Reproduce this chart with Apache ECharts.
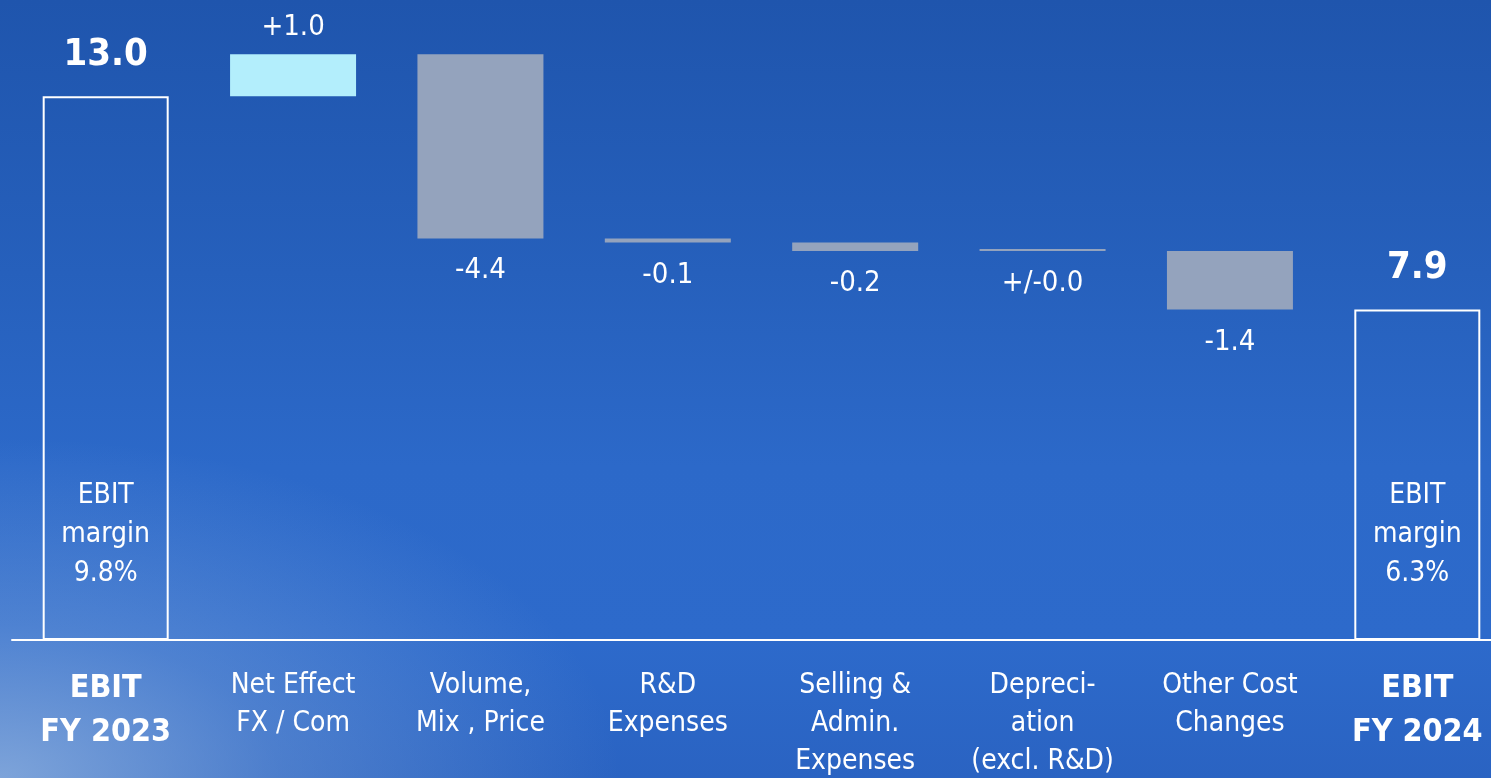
<!DOCTYPE html>
<html>
<head>
<meta charset="utf-8">
<script src="https://cdn.jsdelivr.net/npm/echarts@6/dist/echarts.min.js"></script>
<style>
html,body{margin:0;padding:0;width:1491px;height:778px;overflow:hidden;}
body{
  background:
    radial-gradient(ellipse 620px 340px at 0% 100%, rgba(140,175,222,0.85), rgba(140,175,222,0.35) 45%, rgba(140,175,222,0) 100%),
    linear-gradient(to bottom, #1f55ad 0%, #2660bc 35%, #2c69c9 60%, #2d6acb 82%, #2a63c2 100%);
}
#chart{width:1491px;height:778px;}
</style>
</head>
<body>
<div id="chart"></div>
<script>
const categories = ["EBIT\nFY 2023", "Net Effect\nFX / Com", "Volume,\nMix , Price", "R&D\nExpenses", "Selling &\nAdmin.\nExpenses", "Depreci-\nation\n(excl. R&D)", "Other Cost\nChanges", "EBIT\nFY 2024"];
const isTotal = [true, false, false, false, false, false, false, true];
const values = [13.0, 1.0, -4.4, -0.1, -0.2, 0.0, -1.4, 7.9];
const valueLabels = ["13.0", "+1.0", "-4.4", "-0.1", "-0.2", "+/-0.0", "-1.4", "7.9"];
const marginLabels = ["EBIT\nmargin\n9.8%", "", "", "", "", "", "", "EBIT\nmargin\n6.3%"];

// build waterfall pieces from the values
const base = [], up = [], down = [], totals = [], overlay = [];
let running = 0;
for (let i = 0; i < values.length; i++) {
  const v = values[i];
  if (isTotal[i]) {
    running = v;
    base.push('-'); up.push('-'); down.push('-');
    totals.push(v); overlay.push(v);
  } else if (v > 0) {
    base.push(running); up.push(v); down.push('-');
    totals.push('-'); overlay.push('-');
    running += v;
  } else {
    running += v;
    base.push(running); up.push('-'); down.push(-v);
    totals.push('-'); overlay.push('-');
  }
}

const FONT = "'DejaVu Sans Condensed', 'DejaVu Sans', sans-serif";
const chart = echarts.init(document.getElementById('chart'), null, {renderer: 'canvas'});
const BW = 126;
chart.setOption({
  backgroundColor: 'transparent',
  animation: false,
  grid: {left: 12, width: 1499, top: 12.5, bottom: 138, containLabel: false, outerBoundsMode: 'none'},
  xAxis: {
    type: 'category',
    data: categories,
    axisLine: {show: true, lineStyle: {color: '#ffffff', width: 2}},
    axisTick: {show: false},
    axisLabel: {
      interval: 0,
      margin: 27,
      color: '#ffffff',
      fontFamily: FONT,
      fontSize: 28,
      lineHeight: 38,
      formatter: function (val, idx) {
        return isTotal[idx] ? '{b|' + val.split('\n').join('}\n{b|') + '}' : val;
      },
      rich: {b: {fontFamily: FONT, fontWeight: 'bold', fontSize: 32, lineHeight: 44, color: '#ffffff'}}
    }
  },
  yAxis: {type: 'value', min: 0, max: 15, show: false, splitLine: {show: false}},
  series: [
    {
      name: 'base', type: 'bar', stack: 'w', barWidth: BW, data: base,
      itemStyle: {color: 'transparent'}, silent: true
    },
    {
      name: 'up', type: 'bar', stack: 'w', barWidth: BW, data: up,
      itemStyle: {color: '#b3eefc'},
      label: {
        show: true, position: 'top', distance: 12, color: '#ffffff',
        fontFamily: FONT, fontSize: 29,
        formatter: p => valueLabels[p.dataIndex]
      }
    },
    {
      name: 'down', type: 'bar', stack: 'w', barWidth: BW, data: down, barMinHeight: 2,
      itemStyle: {color: '#94a3bd'},
      label: {
        show: true, position: 'bottom', distance: 18, color: '#ffffff',
        fontFamily: FONT, fontSize: 29,
        formatter: p => valueLabels[p.dataIndex]
      }
    },
    {
      name: 'total', type: 'bar', stack: 'w', barWidth: BW, data: totals,
      itemStyle: {color: 'rgba(0,0,0,0)', borderColor: '#ffffff', borderWidth: 2},
      label: {
        show: true, position: 'top', distance: 22, color: '#ffffff',
        fontFamily: FONT, fontWeight: 'bold', fontSize: 38,
        formatter: p => valueLabels[p.dataIndex]
      }
    },
    {
      name: 'margin', type: 'bar', barWidth: BW, barGap: '-100%', data: overlay,
      itemStyle: {color: 'rgba(0,0,0,0)'}, silent: true,
      label: {
        show: true, position: 'insideBottom', distance: 47, color: '#ffffff',
        fontFamily: FONT, fontSize: 28, lineHeight: 39, align: 'center',
        formatter: p => marginLabels[p.dataIndex]
      }
    }
  ]
});
</script>
</body>
</html>
